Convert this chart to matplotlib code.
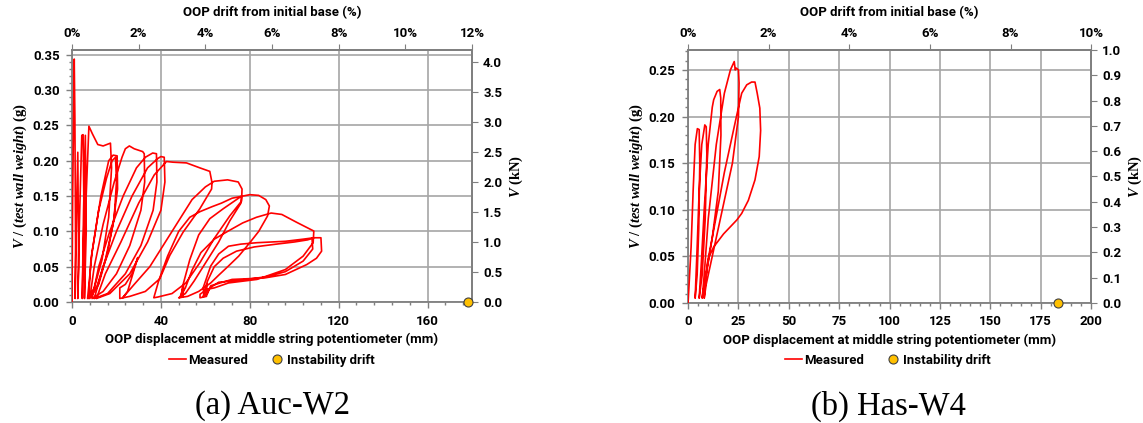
import matplotlib.pyplot as plt
from matplotlib.lines import Line2D
from matplotlib.ticker import MultipleLocator, AutoMinorLocator, PercentFormatter, FormatStrFormatter

plt.rcParams['font.family'] = ['Roboto', 'DejaVu Sans']
plt.rcParams['font.weight'] = 'bold'
plt.rcParams['axes.labelweight'] = 'bold'
plt.rcParams['mathtext.fontset'] = 'custom'
plt.rcParams['mathtext.it'] = 'Liberation Serif:italic:bold'
plt.rcParams['mathtext.rm'] = 'Liberation Serif:bold'

# Auc-W2 measured trace: mid-height displacement (mm) vs base shear / wall weight (g)
auc_disp = [0.0, 0.3, 1.0, 1.3, 1.6, 1.4,
            2.0, 2.6, 3.0, 2.6,
            3.4, 4.4, 5.0, 5.4, 4.6,
            5.2, 6.0, 6.4, 5.6,
            6.0, 7.6, 9.2, 11.6, 14.0, 16.1, 17.3, 17.8, 16.5, 13.5, 10.0, 7.0,
            9.0, 13.0, 16.5, 18.5, 20.3, 20.5, 18.5, 15.0, 11.0, 7.5,
            8.5, 12.0, 15.5, 18.0, 19.6, 20.0, 19.0, 16.0, 12.0, 8.0,
            10.0, 14.0, 19.0, 22.5, 24.0, 25.8, 28.0, 31.8, 32.5, 32.7, 31.0, 26.0, 20.0, 14.0, 9.0,
            12.0, 17.0, 23.0, 29.0, 33.0, 36.3, 38.0, 38.2, 36.5, 31.0, 24.0, 16.0, 10.0,
            14.0, 20.0, 27.0, 34.0, 38.5, 40.0, 41.5, 41.8, 40.0, 34.0, 26.0, 17.0, 11.0,
            15.0, 22.0, 30.0, 37.0, 42.5, 45.5, 51.5, 57.5, 62.0, 63.0, 62.8, 57.5, 50.0, 44.0, 39.5, 33.0, 26.0, 21.5,
            21.5, 24.0, 27.0, 29.6, 25.0, 22.8,
            28.0, 35.0, 42.0, 48.0, 54.0, 60.0, 64.0, 70.0, 74.8, 76.5, 76.3, 71.0, 64.0, 57.6, 51.2, 45.0, 38.5, 36.8,
            36.8, 39.0, 43.0, 48.0, 53.0, 57.6, 63.0, 67.2, 72.0, 76.8, 80.0, 84.0, 87.2, 88.8, 88.0, 84.0, 80.0, 75.0, 70.4, 66.0, 62.4, 57.0, 52.0, 48.0,
            48.0, 50.0, 50.2, 49.0,
            50.0, 53.0, 57.0, 62.0, 68.0, 74.0, 76.3, 76.0, 71.0, 66.0, 60.0, 55.0, 51.0, 48.5,
            51.0, 54.0, 58.0, 64.0, 70.0, 76.8, 83.0, 89.6, 94.4, 101.0, 108.8, 108.5, 104.0, 96.0, 83.2, 70.4, 64.0, 60.8, 57.6,
            57.6, 60.5, 60.7, 59.5,
            59.0, 62.4, 66.0, 70.4, 76.0, 83.2, 90.0, 96.0, 104.0, 108.8, 112.0, 112.3, 110.0, 105.6, 96.0, 86.4, 72.0, 62.4, 60.8, 59.0,
            61.0, 64.0, 68.0, 74.0, 82.0, 92.0, 100.0, 106.0, 108.0, 108.3, 104.0, 96.0, 88.0, 76.0, 66.0, 62.0, 60.5]
auc_vg = [0.0, 0.150, 0.344, 0.260, 0.080, 0.005,
          0.120, 0.212, 0.050, 0.005,
          0.120, 0.236, 0.237, 0.120, 0.005,
          0.130, 0.236, 0.100, 0.005,
          0.120, 0.249, 0.238, 0.223, 0.221, 0.2235, 0.225, 0.190, 0.120, 0.060, 0.020, 0.005,
          0.070, 0.150, 0.200, 0.208, 0.207, 0.160, 0.110, 0.060, 0.020, 0.005,
          0.060, 0.130, 0.175, 0.200, 0.205, 0.170, 0.120, 0.070, 0.025, 0.005,
          0.050, 0.110, 0.170, 0.205, 0.217, 0.221, 0.217, 0.213, 0.210, 0.170, 0.130, 0.080, 0.040, 0.015, 0.005,
          0.050, 0.100, 0.150, 0.190, 0.205, 0.211, 0.210, 0.170, 0.130, 0.080, 0.040, 0.012, 0.005,
          0.050, 0.100, 0.150, 0.190, 0.203, 0.206, 0.205, 0.170, 0.130, 0.085, 0.040, 0.012, 0.005,
          0.040, 0.085, 0.140, 0.180, 0.199, 0.198, 0.197, 0.190, 0.185, 0.169, 0.160, 0.132, 0.099, 0.066, 0.033, 0.015, 0.008, 0.005,
          0.020, 0.025, 0.040, 0.063, 0.015, 0.006,
          0.025, 0.050, 0.085, 0.115, 0.145, 0.163, 0.171, 0.173, 0.170, 0.160, 0.143, 0.122, 0.090, 0.056, 0.027, 0.012, 0.007, 0.006,
          0.006, 0.030, 0.065, 0.100, 0.120, 0.128, 0.135, 0.140, 0.147, 0.150, 0.152, 0.151, 0.145, 0.136, 0.122, 0.100, 0.084, 0.065, 0.051, 0.038, 0.027, 0.015, 0.008, 0.006,
          0.006, 0.008, 0.025, 0.008,
          0.025, 0.060, 0.095, 0.118, 0.132, 0.145, 0.150, 0.140, 0.115, 0.085, 0.055, 0.030, 0.012, 0.007,
          0.020, 0.045, 0.070, 0.089, 0.100, 0.112, 0.120, 0.126, 0.124, 0.113, 0.1005, 0.084, 0.065, 0.046, 0.032, 0.027, 0.020, 0.018, 0.011,
          0.006, 0.008, 0.026, 0.008,
          0.020, 0.051, 0.068, 0.079, 0.082, 0.084, 0.085, 0.086, 0.089, 0.091, 0.091, 0.072, 0.062, 0.053, 0.039, 0.034, 0.032, 0.023, 0.011, 0.008,
          0.030, 0.050, 0.062, 0.072, 0.078, 0.082, 0.085, 0.088, 0.090, 0.075, 0.058, 0.043, 0.036, 0.031, 0.028, 0.020, 0.010]

# Has-W4 measured trace
has_disp = [0.0, 0.5, 1.5, 2.5, 3.5, 4.6, 5.5, 5.8, 5.3, 4.5, 3.5,
            4.5, 5.5, 6.8, 8.3, 9.0, 9.3, 8.5, 7.0, 5.5,
            6.5, 8.0, 10.0, 12.0, 12.7, 14.4, 15.7, 16.2, 16.3, 15.0, 12.0, 9.0, 7.0,
            8.0, 10.0, 14.0, 18.0, 21.0, 22.9, 23.4, 23.9, 25.0, 25.3, 25.0, 22.0, 17.0, 12.0, 9.0, 8.0,
            9.5, 12.0, 18.0, 24.0, 26.6, 29.1, 31.5, 33.2, 34.3, 35.6, 36.0, 35.3, 33.2, 29.9, 26.6, 24.2, 17.6, 12.7, 10.3, 8.7, 7.0]
has_vg = [0.0, 0.020, 0.060, 0.120, 0.170, 0.187, 0.186, 0.150, 0.080, 0.030, 0.005,
          0.060, 0.120, 0.170, 0.191, 0.189, 0.160, 0.090, 0.030, 0.005,
          0.040, 0.100, 0.170, 0.210, 0.218, 0.227, 0.229, 0.220, 0.180, 0.120, 0.070, 0.030, 0.005,
          0.030, 0.090, 0.170, 0.225, 0.250, 0.259, 0.250, 0.252, 0.250, 0.236, 0.200, 0.150, 0.100, 0.050, 0.020, 0.005,
          0.042, 0.070, 0.140, 0.200, 0.225, 0.234, 0.237, 0.237, 0.225, 0.209, 0.185, 0.157, 0.132, 0.110, 0.096, 0.089, 0.074, 0.060, 0.049, 0.028, 0.006]

# displacement at which each wall became unstable
auc_instability = 178.0
has_instability = 183.5

auc_xticks = [0, 40, 80, 120, 160]
has_xticks = [0, 25, 50, 75, 100, 125, 150, 175, 200]

GRID = '#a6a6a6'
SPINE = '#7f7f7f'
FS = 9.5


def draw_panel(ax, disp, vg, instab, xmax, xticks, ymax, ystep, weight, kn_step,
               height, drift_max, kn_fmt):
    ax.plot(disp, vg, color='red', lw=1.2, zorder=3)
    ax.plot([instab], [0], 'o', ms=6.5, mfc='#ffc000', mec='#404040', mew=0.8,
            clip_on=False, zorder=5)

    ax.set_xlim(0, xmax)
    ax.set_ylim(0, ymax)
    ax.set_xticks(xticks)
    ax.xaxis.set_minor_locator(AutoMinorLocator(5))
    ax.yaxis.set_major_locator(MultipleLocator(ystep))
    ax.yaxis.set_minor_locator(AutoMinorLocator(5))
    ax.yaxis.set_major_formatter(FormatStrFormatter('%.2f'))
    ax.grid(True, which='major', color=GRID, lw=1.2)
    ax.set_axisbelow(True)
    for s in ax.spines.values():
        s.set_color(SPINE)
        s.set_linewidth(1.3)
    ax.tick_params(which='both', direction='out', color=SPINE, labelsize=FS, width=1)
    ax.tick_params(which='major', length=4, pad=5)
    ax.tick_params(which='minor', length=2.5)

    ax.set_xlabel('OOP displacement at middle string potentiometer (mm)',
                  fontsize=FS, labelpad=4)
    ax.set_ylabel(r'$V$ / $(test\ wall\ weight)$ (g)', fontfamily='Liberation Serif',
                  fontsize=10.5, labelpad=3)

    # drift axis on top
    top = ax.secondary_xaxis('top', functions=(lambda mm: mm / height * 100,
                                                lambda p: p * height / 100))
    top.set_xticks(list(range(0, drift_max + 1, 2)))
    top.xaxis.set_major_formatter(PercentFormatter(xmax=100, decimals=0))
    top.tick_params(direction='out', color=SPINE, labelsize=FS, length=4, pad=3)
    top.spines['top'].set_color(SPINE)
    top.spines['top'].set_linewidth(1.3)
    top.set_xlabel('OOP drift from initial base (%)', fontsize=FS, labelpad=8)

    # shear force in kN on the right
    right = ax.secondary_yaxis('right', functions=(lambda g: g * weight,
                                                    lambda k: k / weight))
    right.yaxis.set_major_locator(MultipleLocator(kn_step))
    right.yaxis.set_major_formatter(FormatStrFormatter(kn_fmt))
    right.tick_params(direction='out', color=SPINE, labelsize=FS, length=4, pad=4)
    right.spines['right'].set_color(SPINE)
    right.spines['right'].set_linewidth(1.3)
    right.set_ylabel(r'$V$ (kN)', fontfamily='Liberation Serif', fontsize=10.5, labelpad=4)


fig = plt.figure(figsize=(11.43, 4.23), dpi=100)
ax1 = fig.add_axes([0.063, 0.286, 0.350, 0.596])
ax2 = fig.add_axes([0.602, 0.284, 0.3526, 0.598])

draw_panel(ax1, auc_disp, auc_vg, auc_instability, 180, auc_xticks, 0.357, 0.05,
           4.2 / 0.357, 0.5, 1500, 12, '%.1f')
draw_panel(ax2, has_disp, has_vg, has_instability, 200, has_xticks, 0.2715, 0.05,
           1.0 / 0.2715, 0.1, 2000, 10, '%.1f')

handles = [Line2D([], [], color='red', lw=1.2),
           Line2D([], [], ls='none', marker='o', ms=6.5, mfc='#ffc000', mec='#404040', mew=0.8)]
for cx, caption in [(0.238, '(a) Auc-W2'), (0.777, '(b) Has-W4')]:
    fig.legend(handles, ['Measured', 'Instability drift'], loc='center',
               bbox_to_anchor=(cx, 1 - 360 / 423), ncol=2, frameon=False,
               fontsize=FS, handlelength=1.3, handletextpad=0.1, columnspacing=1.6)
    fig.text(cx, 1 - 406 / 423, caption, ha='center', va='center',
             fontfamily='Liberation Serif', fontweight='normal', fontsize=23.5)

fig.savefig('out.png', dpi=100)
